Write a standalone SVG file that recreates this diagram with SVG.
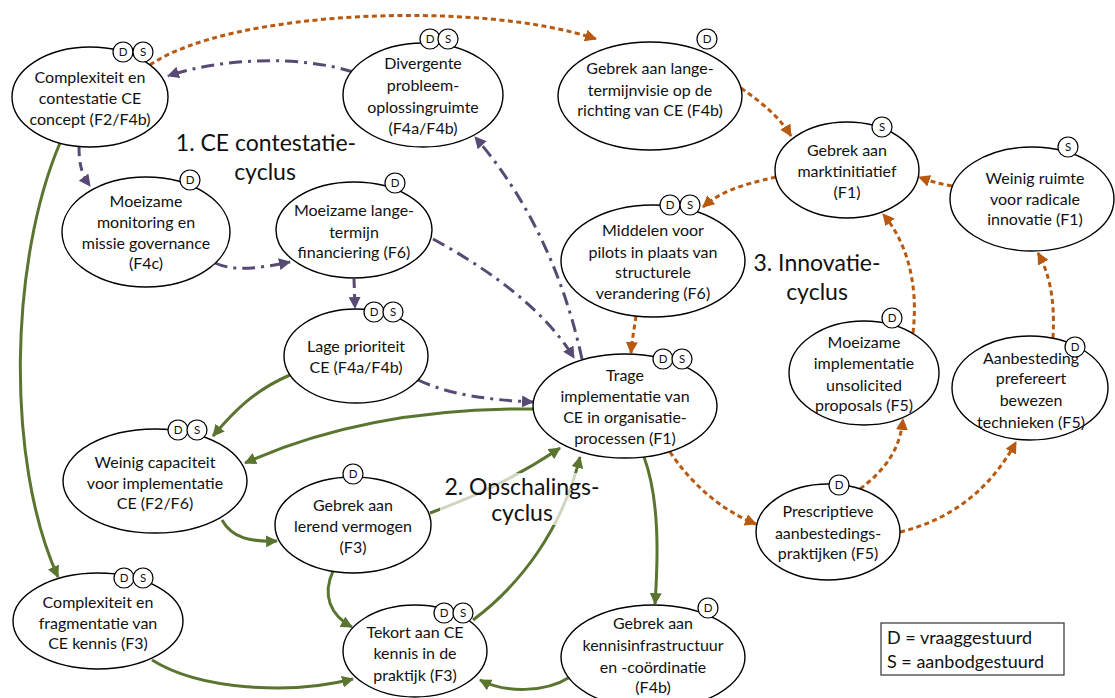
<svg xmlns="http://www.w3.org/2000/svg" width="1115" height="698" viewBox="0 0 1115 698">
<style>
.node ellipse{fill:#fff;stroke:#000;stroke-width:1.4}
.node text{font-family:Lato,"Liberation Sans",sans-serif;font-size:16px;fill:#111;text-anchor:middle}
.badge circle{fill:#fff;stroke:#000;stroke-width:1.2}
.badge text{font-family:Lato,"Liberation Sans",sans-serif;font-size:11.5px;fill:#111;text-anchor:middle}
.pu{fill:none;stroke:#574a73;stroke-width:3;stroke-dasharray:13 6 3 6}
.pud{fill:none;stroke:#574a73;stroke-width:3;stroke-dasharray:9 6}
.or{fill:none;stroke:#b8590f;stroke-width:3;stroke-dasharray:5 3.5}
.gr{fill:none;stroke:#5a7530;stroke-width:3}
.title{font-family:Lato,"Liberation Sans",sans-serif;font-size:23px;fill:#111;text-anchor:middle}
.legend{font-family:Lato,"Liberation Sans",sans-serif;font-size:18px;fill:#111}
</style>
<defs>
<marker id="ap" markerUnits="userSpaceOnUse" markerWidth="13" markerHeight="12" refX="11" refY="6" orient="auto"><path d="M0,0 L12,6 L0,12 z" fill="#574a73"/></marker>
<marker id="ao" markerUnits="userSpaceOnUse" markerWidth="13" markerHeight="12" refX="11" refY="6" orient="auto"><path d="M0,0 L12,6 L0,12 z" fill="#b8590f"/></marker>
<marker id="ag" markerUnits="userSpaceOnUse" markerWidth="13" markerHeight="12" refX="11" refY="6" orient="auto"><path d="M0,0 L12,6 L0,12 z" fill="#5a7530"/></marker>
</defs>
<rect width="1115" height="698" fill="#fff"/>

<g id="connectors">
<!-- purple -->
<path class="pu" d="M353,72 C300,55 220,58 168,76" marker-end="url(#ap)"/>
<path class="pud" d="M79,147 C79,165 82,175 90,186" marker-end="url(#ap)"/>
<path class="pu" d="M215,263 C235,272 260,268 290,262" marker-end="url(#ap)"/>
<path class="pud" d="M354,279 L355,308" marker-end="url(#ap)"/>
<path class="pu" d="M433,239 C490,270 545,310 574,358" marker-end="url(#ap)"/>
<path class="pu" d="M582,359 C565,280 530,200 475,137" marker-end="url(#ap)"/>
<path class="pu" d="M418,380 C450,395 490,400 533,402" marker-end="url(#ap)"/>
<!-- orange -->
<path class="or" d="M150,65 C230,10 480,0 596,39" marker-end="url(#ao)"/>
<path class="or" d="M741,88 C765,105 780,118 791,136" marker-end="url(#ao)"/>
<path class="or" d="M776,177 C740,185 720,192 703,207" marker-end="url(#ao)"/>
<path class="or" d="M952,186 C940,184 930,181 919,177" marker-end="url(#ao)"/>
<path class="or" d="M636,316 C634,330 632,340 631,353" marker-end="url(#ao)"/>
<path class="or" d="M670,452 C690,482 720,510 756,524" marker-end="url(#ao)"/>
<path class="or" d="M860,489 C885,470 900,450 903,419" marker-end="url(#ao)"/>
<path class="or" d="M913,333 C919,280 905,240 883,214" marker-end="url(#ao)"/>
<path class="or" d="M900,532 C950,520 990,490 1016,442" marker-end="url(#ao)"/>
<path class="or" d="M1053,338 C1055,300 1050,275 1038,253" marker-end="url(#ao)"/>
<!-- green -->
<path class="gr" d="M60,143 C10,260 5,460 58,577" marker-end="url(#ag)"/>
<path class="gr" d="M290,375 C255,390 235,410 213,436" marker-end="url(#ag)"/>
<path class="gr" d="M533,409 C430,408 330,425 245,463" marker-end="url(#ag)"/>
<path class="gr" d="M222,520 C232,538 250,542 277,541" marker-end="url(#ag)"/>
<path class="gr" d="M430,513 C480,495 520,475 560,448" marker-end="url(#ag)"/>
<path class="gr" d="M333,571 C322,595 330,615 352,627" marker-end="url(#ag)"/>
<path class="gr" d="M473,620 C520,585 562,530 580,457" marker-end="url(#ag)"/>
<path class="gr" d="M644,457 C660,500 658,560 655,604" marker-end="url(#ag)"/>
<path class="gr" d="M152,660 C200,690 290,695 353,679" marker-end="url(#ag)"/>
<path class="gr" d="M570,677 C545,693 505,693 480,680" marker-end="url(#ag)"/>
</g>

<g id="cycle-labels">
<text class="title" x="266" y="151">1. CE contestatie-</text>
<text class="title" x="265" y="180">cyclus</text>
<rect x="440" y="473" width="167" height="52" fill="#fff" fill-opacity="0.7"/>
<text class="title" x="522" y="495">2. Opschalings-</text>
<text class="title" x="522" y="521">cyclus</text>
<text class="title" x="817" y="271">3. Innovatie-</text>
<text class="title" x="817" y="300">cyclus</text>
</g>

<g id="n1" class="node"><ellipse cx="90" cy="97" rx="78" ry="50"/><text x="90" y="83">Complexiteit en</text><text x="90" y="104">contestatie CE</text><text x="90" y="125">concept (F2/F4b)</text>
<g class="badge"><circle cx="123" cy="52" r="10"/><text x="123" y="56">D</text><circle cx="143" cy="52" r="10"/><text x="143" y="56">S</text></g></g>

<g id="n2" class="node"><ellipse cx="423" cy="95" rx="80" ry="52"/><text x="423" y="69">Divergente</text><text x="423" y="91">probleem-</text><text x="423" y="113">oplossingruimte</text><text x="423" y="134">(F4a/F4b)</text>
<g class="badge"><circle cx="430" cy="39" r="10"/><text x="430" y="43">D</text><circle cx="448" cy="39" r="10"/><text x="448" y="43">S</text></g></g>

<g id="n3" class="node"><ellipse cx="650" cy="96" rx="92" ry="54"/><text x="650" y="74">Gebrek aan lange-</text><text x="650" y="96">termijnvisie op de</text><text x="650" y="116">richting van CE (F4b)</text>
<g class="badge"><circle cx="707" cy="39" r="10"/><text x="707" y="43">D</text></g></g>

<g id="n4" class="node"><ellipse cx="847" cy="170" rx="72" ry="48"/><text x="847" y="156">Gebrek aan</text><text x="847" y="177">marktinitiatief</text><text x="847" y="198">(F1)</text>
<g class="badge"><circle cx="882" cy="127" r="10"/><text x="882" y="131">S</text></g></g>

<g id="n5" class="node"><ellipse cx="1032" cy="199" rx="82" ry="52"/><text x="1035" y="184">Weinig ruimte</text><text x="1035" y="205">voor radicale</text><text x="1035" y="225">innovatie (F1)</text>
<g class="badge"><circle cx="1068" cy="147" r="10"/><text x="1068" y="151">S</text></g></g>

<g id="n6" class="node"><ellipse cx="146" cy="232" rx="84" ry="55"/><text x="146" y="207">Moeizame</text><text x="146" y="228">monitoring en</text><text x="146" y="249">missie governance</text><text x="146" y="269">(F4c)</text>
<g class="badge"><circle cx="190" cy="180" r="10"/><text x="190" y="184">D</text></g></g>

<g id="n7" class="node"><ellipse cx="354" cy="230" rx="78" ry="48"/><text x="354" y="216">Moeizame lange-</text><text x="354" y="238">termijn</text><text x="354" y="258">financiering (F6)</text>
<g class="badge"><circle cx="395" cy="183" r="10"/><text x="395" y="187">D</text></g></g>

<g id="n8" class="node"><ellipse cx="356" cy="356" rx="72" ry="47"/><text x="356" y="352">Lage prioriteit</text><text x="356" y="373">CE (F4a/F4b)</text>
<g class="badge"><circle cx="374" cy="312" r="10"/><text x="374" y="316">D</text><circle cx="393" cy="312" r="10"/><text x="393" y="316">S</text></g></g>

<g id="n9" class="node"><ellipse cx="625" cy="406" rx="92" ry="52"/><text x="625" y="381">Trage</text><text x="625" y="402">implementatie van</text><text x="625" y="423">CE in organisatie-</text><text x="625" y="444">processen (F1)</text>
<g class="badge"><circle cx="663" cy="359" r="10"/><text x="663" y="363">D</text><circle cx="682" cy="359" r="10"/><text x="682" y="363">S</text></g></g>

<g id="n10" class="node"><ellipse cx="653" cy="261" rx="92" ry="56"/><text x="653" y="236">Middelen voor</text><text x="653" y="258">pilots in plaats van</text><text x="653" y="278">structurele</text><text x="653" y="299">verandering (F6)</text>
<g class="badge"><circle cx="670" cy="205" r="10"/><text x="670" y="209">D</text><circle cx="690" cy="205" r="10"/><text x="690" y="209">S</text></g></g>

<g id="n11" class="node"><ellipse cx="864" cy="373" rx="75" ry="52"/><text x="864" y="348">Moeizame</text><text x="864" y="369">implementatie</text><text x="864" y="391">unsolicited</text><text x="864" y="411">proposals (F5)</text>
<g class="badge"><circle cx="892" cy="318" r="10"/><text x="892" y="322">D</text></g></g>

<g id="n12" class="node"><ellipse cx="1030" cy="388" rx="78" ry="52"/><text x="1031" y="364">Aanbesteding</text><text x="1031" y="384">prefereert</text><text x="1031" y="406">bewezen</text><text x="1031" y="428">technieken (F5)</text>
<g class="badge"><circle cx="1075" cy="347" r="10"/><text x="1075" y="351">D</text></g></g>

<g id="n13" class="node"><ellipse cx="155" cy="481" rx="92" ry="52"/><text x="155" y="468">Weinig capaciteit</text><text x="155" y="489">voor implementatie</text><text x="155" y="509">CE (F2/F6)</text>
<g class="badge"><circle cx="178" cy="430" r="10"/><text x="178" y="434">D</text><circle cx="197" cy="430" r="10"/><text x="197" y="434">S</text></g></g>

<g id="n14" class="node"><ellipse cx="353" cy="525" rx="78" ry="48"/><text x="353" y="511">Gebrek aan</text><text x="353" y="532">lerend vermogen</text><text x="353" y="553">(F3)</text>
<g class="badge"><circle cx="353" cy="474" r="10"/><text x="353" y="478">D</text></g></g>

<g id="n15" class="node"><ellipse cx="98" cy="621" rx="85" ry="48"/><text x="98" y="608">Complexiteit en</text><text x="98" y="629">fragmentatie van</text><text x="98" y="649">CE kennis (F3)</text>
<g class="badge"><circle cx="124" cy="578" r="10"/><text x="124" y="582">D</text><circle cx="143" cy="578" r="10"/><text x="143" y="582">S</text></g></g>

<g id="n16" class="node"><ellipse cx="415" cy="651" rx="72" ry="46"/><text x="415" y="638">Tekort aan CE</text><text x="415" y="659">kennis in de</text><text x="415" y="681">praktijk (F3)</text>
<g class="badge"><circle cx="444" cy="613" r="10"/><text x="444" y="617">D</text><circle cx="463" cy="613" r="10"/><text x="463" y="617">S</text></g></g>

<g id="n17" class="node"><ellipse cx="653" cy="657" rx="92" ry="52"/><text x="653" y="629">Gebrek aan</text><text x="653" y="651">kennisinfrastructuur</text><text x="653" y="673">en -coördinatie</text><text x="653" y="693">(F4b)</text>
<g class="badge"><circle cx="708" cy="608" r="10"/><text x="708" y="612">D</text></g></g>

<g id="n18" class="node"><ellipse cx="828" cy="532" rx="72" ry="48"/><text x="828" y="517">Prescriptieve</text><text x="828" y="539">aanbestedings-</text><text x="828" y="559">praktijken (F5)</text>
<g class="badge"><circle cx="839" cy="485" r="10"/><text x="839" y="489">D</text></g></g>

<g id="legend">
<rect x="881" y="623" width="183" height="52" fill="#fff" stroke="#333" stroke-width="1.2"/>
<text class="legend" x="887" y="644">D = vraaggestuurd</text>
<text class="legend" x="887" y="668">S = aanbodgestuurd</text>
</g>
</svg>
